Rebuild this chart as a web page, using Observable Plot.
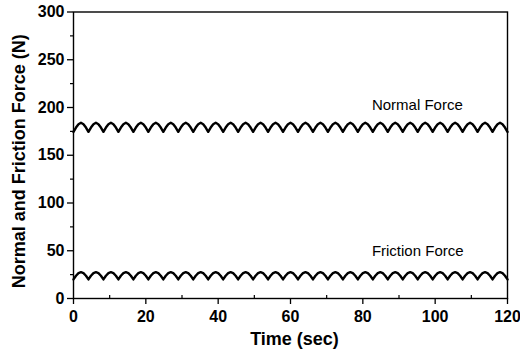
<!DOCTYPE html>
<html>
<head>
<meta charset="utf-8">
<script src="https://cdn.jsdelivr.net/npm/d3@7"></script>
<script src="https://cdn.jsdelivr.net/npm/@observablehq/plot@0.6"></script>
<style>
  html, body { margin: 0; padding: 0; background: #fff; }
  #chart svg { display: block; }
</style>
</head>
<body>
<div id="chart"></div>
<script>
// Sampling: 175 samples evenly over 0–120 s (6 per oscillation cycle)
const sampleCount = 175;
const timeSpan = 120;

// Normal force (N): 29 cycles
const normalForce = [
  174.5,179,182.5,184,182.5,179,
  174.5,179,182.5,184,182.5,179,
  174.5,179,182.5,184,182.5,179,
  174.5,179,182.5,184,182.5,179,
  174.5,179,182.5,184,182.5,179,
  174.5,179,182.5,184,182.5,179,
  174.5,179,182.5,184,182.5,179,
  174.5,179,182.5,184,182.5,179,
  174.5,179,182.5,184,182.5,179,
  174.5,179,182.5,184,182.5,179,
  174.5,179,182.5,184,182.5,179,
  174.5,179,182.5,184,182.5,179,
  174.5,179,182.5,184,182.5,179,
  174.5,179,182.5,184,182.5,179,
  174.5,179,182.5,184,182.5,179,
  174.5,179,182.5,184,182.5,179,
  174.5,179,182.5,184,182.5,179,
  174.5,179,182.5,184,182.5,179,
  174.5,179,182.5,184,182.5,179,
  174.5,179,182.5,184,182.5,179,
  174.5,179,182.5,184,182.5,179,
  174.5,179,182.5,184,182.5,179,
  174.5,179,182.5,184,182.5,179,
  174.5,179,182.5,184,182.5,179,
  174.5,179,182.5,184,182.5,179,
  174.5,179,182.5,184,182.5,179,
  174.5,179,182.5,184,182.5,179,
  174.5,179,182.5,184,182.5,179,
  174.5,179,182.5,184,182.5,179,
  174.5
];

// Friction force (N): 29 cycles
const frictionForce = [
  20,23.8,26.5,27.5,26.5,23.8,
  20,23.8,26.5,27.5,26.5,23.8,
  20,23.8,26.5,27.5,26.5,23.8,
  20,23.8,26.5,27.5,26.5,23.8,
  20,23.8,26.5,27.5,26.5,23.8,
  20,23.8,26.5,27.5,26.5,23.8,
  20,23.8,26.5,27.5,26.5,23.8,
  20,23.8,26.5,27.5,26.5,23.8,
  20,23.8,26.5,27.5,26.5,23.8,
  20,23.8,26.5,27.5,26.5,23.8,
  20,23.8,26.5,27.5,26.5,23.8,
  20,23.8,26.5,27.5,26.5,23.8,
  20,23.8,26.5,27.5,26.5,23.8,
  20,23.8,26.5,27.5,26.5,23.8,
  20,23.8,26.5,27.5,26.5,23.8,
  20,23.8,26.5,27.5,26.5,23.8,
  20,23.8,26.5,27.5,26.5,23.8,
  20,23.8,26.5,27.5,26.5,23.8,
  20,23.8,26.5,27.5,26.5,23.8,
  20,23.8,26.5,27.5,26.5,23.8,
  20,23.8,26.5,27.5,26.5,23.8,
  20,23.8,26.5,27.5,26.5,23.8,
  20,23.8,26.5,27.5,26.5,23.8,
  20,23.8,26.5,27.5,26.5,23.8,
  20,23.8,26.5,27.5,26.5,23.8,
  20,23.8,26.5,27.5,26.5,23.8,
  20,23.8,26.5,27.5,26.5,23.8,
  20,23.8,26.5,27.5,26.5,23.8,
  20,23.8,26.5,27.5,26.5,23.8,
  20
];

const xTicks = [0, 20, 40, 60, 80, 100, 120];
const xMinorTicks = [10, 30, 50, 70, 90, 110];
const yTicks = [0, 50, 100, 150, 200, 250, 300];
const yMinorTicks = [25, 75, 125, 175, 225, 275];

const seriesLabels = ["Normal Force", "Friction Force"];
const seriesLabelTime = [82.5, 82.5];
const seriesLabelForce = [202, 50];

const xTitle = "Time (sec)";
const yTitle = "Normal and Friction Force (N)";

// Build tables
const time = d3.range(sampleCount).map(i => i * timeSpan / (sampleCount - 1));
const normalData = time.map((t, i) => ({t, f: normalForce[i]}));
const frictionData = time.map((t, i) => ({t, f: frictionForce[i]}));
const labelData = seriesLabels.map((s, i) => ({s, t: seriesLabelTime[i], f: seriesLabelForce[i]}));

const font = "'Liberation Sans', Arial, Helvetica, sans-serif";

const chart = Plot.plot({
  width: 520,
  height: 357,
  marginLeft: 73,
  marginRight: 13,
  marginTop: 11.5,
  marginBottom: 59,
  style: {fontFamily: font, background: "#fff", color: "#000"},
  x: {domain: [0, 120]},
  y: {domain: [0, 300]},
  marks: [
    Plot.frame({stroke: "#000", strokeWidth: 1.4}),
    Plot.axisX({ticks: xTicks, tickSize: 6, tickPadding: 6, tickFormat: d => d, fontSize: 16, fontWeight: "bold", label: null, strokeWidth: 1.3}),
    Plot.axisX({ticks: xMinorTicks, tickSize: -3, text: null, label: null, strokeWidth: 1.2}),
    Plot.axisY({ticks: yTicks, tickSize: 6, tickPadding: 3, tickFormat: d => d, fontSize: 16, fontWeight: "bold", label: null, strokeWidth: 1.3}),
    Plot.axisY({ticks: yMinorTicks, tickSize: 3, text: null, label: null, strokeWidth: 1.2}),
    Plot.line(normalData, {x: "t", y: "f", stroke: "#000", strokeWidth: 2.4, strokeLinejoin: "round"}),
    Plot.line(frictionData, {x: "t", y: "f", stroke: "#000", strokeWidth: 2.4, strokeLinejoin: "round"}),
    Plot.text(labelData, {x: "t", y: "f", text: "s", textAnchor: "start", fontSize: 15, fill: "#000"}),
    Plot.text([xTitle], {frameAnchor: "bottom", dx: 4, dy: 46, textAnchor: "middle", fontSize: 18, fontWeight: "bold", fill: "#000"}),
    Plot.text([yTitle], {frameAnchor: "left", dx: -54, dy: 6, rotate: -90, textAnchor: "middle", fontSize: 18, fontWeight: "bold", fill: "#000"})
  ]
});

document.getElementById("chart").appendChild(chart);
</script>
</body>
</html>
